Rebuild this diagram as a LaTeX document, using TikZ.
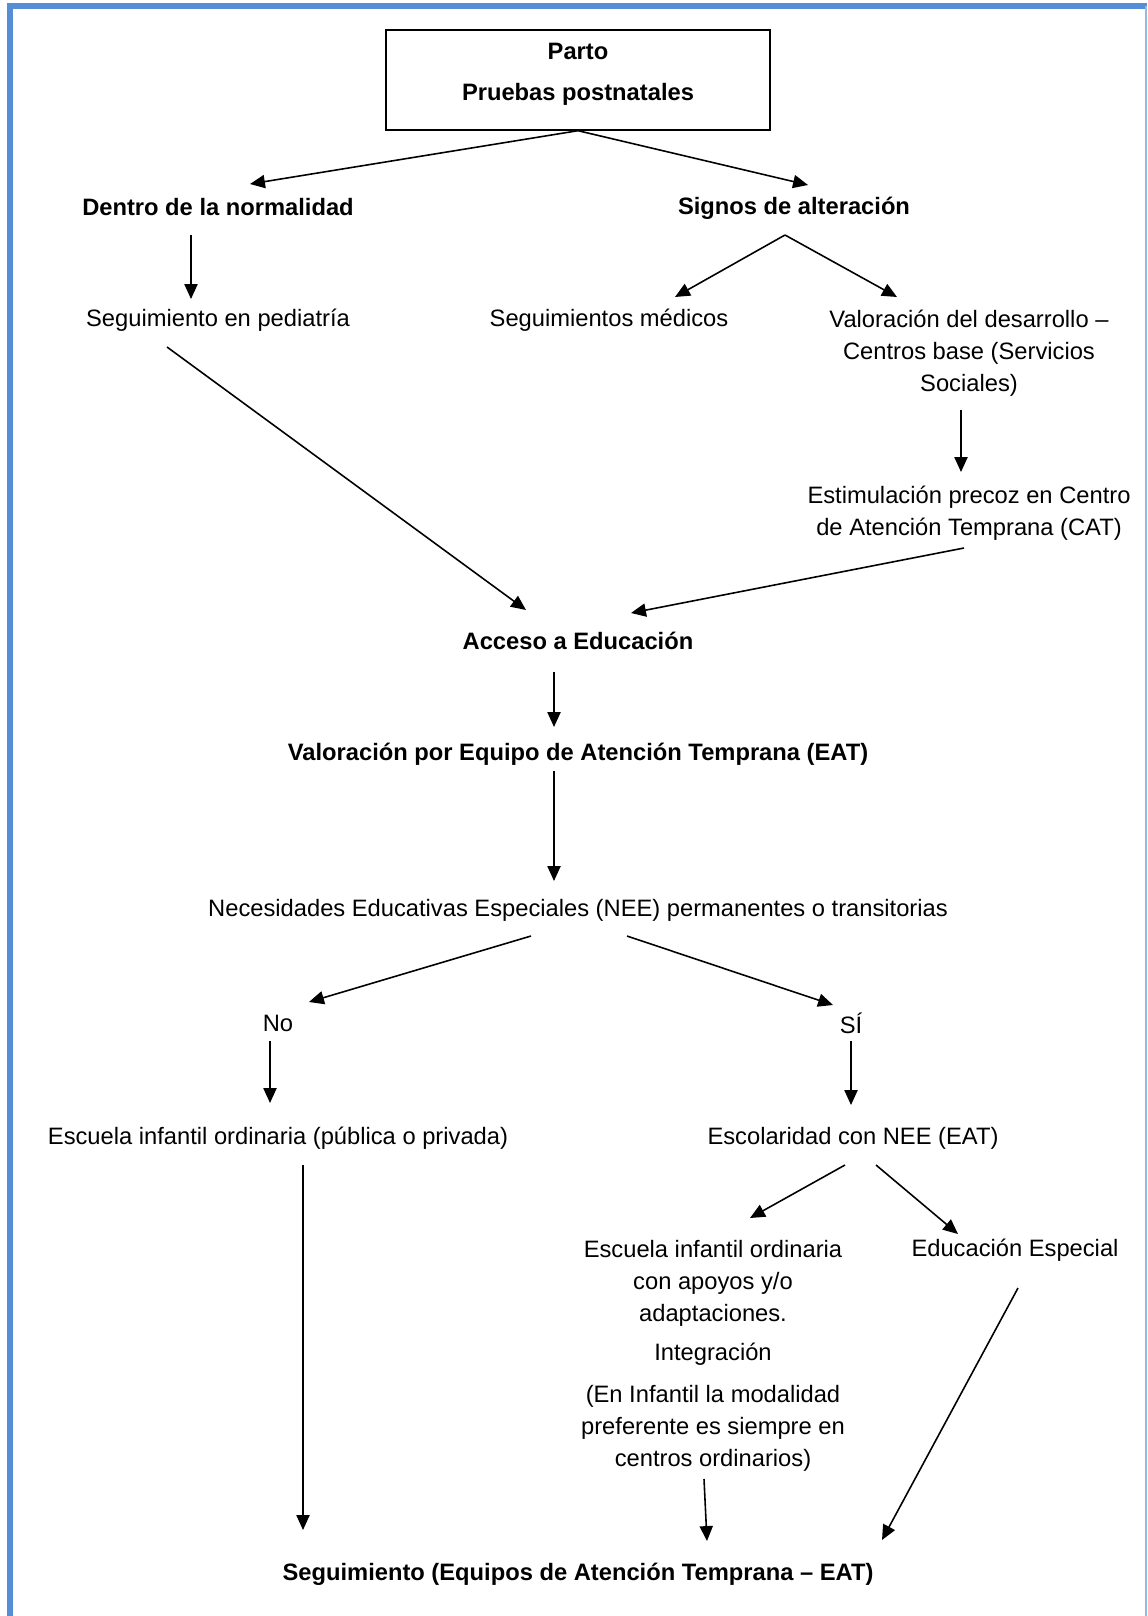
\documentclass[tikz,border=0pt]{standalone}
\usepackage{fontspec}
\setmainfont{Liberation Sans}
\usetikzlibrary{arrows.meta, calc}
\definecolor{cFrame}{RGB}{85,142,213}
\definecolor{cFrameLight}{RGB}{150,185,228}
\newcommand{\flowsize}{\fontsize{13.5pt}{18.2pt}\selectfont}
\tikzset{
	titlebox/.style={rectangle, draw=black, line width=0.8pt, minimum width=7.68cm, minimum height=2cm, align=center, text depth=9pt, font=\flowsize\bfseries},
	plain/.style={align=center, inner sep=1pt, font=\flowsize},
	heading/.style={plain, font=\flowsize\bfseries},
	linkarrow/.style={-{Triangle[length=8.5pt, width=7.5pt]}, line width=0.9pt},
}
\begin{document}
\begin{tikzpicture}[x=0.02cm, y=-0.02cm]
	\useasboundingbox (0,0) rectangle (1147,1616);
	% frame
	\draw[cFrame, line width=0.12cm] (7,6) -- (1147,6);
	\draw[cFrame, line width=0.12cm] (10,3) -- (10,1616);
	\draw[cFrameLight, line width=0.04cm] (1146,6) -- (1146,1616);
	% nodes
	\node[titlebox] (parto) at (578,80) {Parto\\[5pt]Pruebas postnatales};
	\node[heading] (dentro) at (218,207) {Dentro de la normalidad};
	\node[heading] (signos) at (794,208) {Signos de alteración};
	\node[plain] (ped) at (218,320) {Seguimiento en pediatría};
	\node[plain] (medicos) at (609,320) {Seguimientos médicos};
	\node[plain] (valdes) at (969,353) {Valoración del desarrollo –\\Centros base (Servicios\\Sociales)};
	\node[plain] (cat) at (969,513) {Estimulación precoz en Centro\\de Atención Temprana (CAT)};
	\node[heading] (acceso) at (578,641) {Acceso a Educación};
	\node[heading] (valeat) at (578,754) {Valoración por Equipo de Atención Temprana (EAT)};
	\node[plain] (nee) at (578,910) {Necesidades Educativas Especiales (NEE) permanentes o transitorias};
	\node[plain] (no) at (278,1023) {No};
	\node[plain] (si) at (851,1023) {SÍ};
	\node[plain] (escord) at (278,1138) {Escuela infantil ordinaria (pública o privada)};
	\node[plain] (escnee) at (853,1138) {Escolaridad con NEE (EAT)};
	\node[plain] (integ) at (713,1356) {Escuela infantil ordinaria\\con apoyos y/o\\adaptaciones.\\[4pt]Integración\\[5.5pt](En Infantil la modalidad\\preferente es siempre en\\centros ordinarios)};
	\node[plain] (espec) at (1015,1250) {Educación Especial};
	\node[heading] (seg) at (578,1574) {Seguimiento (Equipos de Atención Temprana – EAT)};
	% connectors
	\draw[linkarrow] (parto.south) -- ($(dentro.center)+(32,-23)$);
	\draw[linkarrow] (parto.south) -- ($(signos.center)+(14,-23)$);
	\draw[linkarrow] ($(dentro.center)+(-27,28)$) -- ($(ped.center)+(-27,-21)$);
	\draw[linkarrow] ($(signos.center)+(-9,27)$) -- ($(medicos.center)+(66,-23)$);
	\draw[linkarrow] ($(signos.center)+(-9,27)$) -- ($(valdes.center)+(-72,-56)$);
	\draw[linkarrow] ($(valdes.center)+(-8,57)$) -- ($(cat.center)+(-8,-41)$);
	\draw[linkarrow] ($(cat.center)+(-5,35)$) -- ($(acceso.center)+(53,-28)$);
	\draw[linkarrow] ($(ped.center)+(-51,27)$) -- ($(acceso.center)+(-52,-31)$);
	\draw[linkarrow] ($(acceso.center)+(-24,31)$) -- ($(valeat.center)+(-24,-27)$);
	\draw[linkarrow] ($(valeat.center)+(-24,17)$) -- ($(nee.center)+(-24,-29)$);
	\draw[linkarrow] ($(nee.center)+(-47,26)$) -- ($(no.center)+(31,-21)$);
	\draw[linkarrow] ($(nee.center)+(49,26)$) -- ($(si.center)+(-18,-18)$);
	\draw[linkarrow] ($(no.center)+(-8,18)$) -- ($(escord.center)+(-8,-35)$);
	\draw[linkarrow] ($(si.center)+(0,18)$) -- ($(escnee.center)+(-2,-33)$);
	\draw[linkarrow] ($(escnee.center)+(-8,27)$) -- ($(integ.center)+(37,-138)$);
	\draw[linkarrow] ($(escnee.center)+(23,27)$) -- ($(espec.center)+(-57,-16)$);
	\draw[linkarrow] ($(escord.center)+(25,27)$) -- ($(seg.center)+(-275,-44)$);
	\draw[linkarrow] ($(integ.center)+(-9,123)$) -- ($(seg.center)+(129,-33)$);
	\draw[linkarrow] ($(espec.center)+(3,38)$) -- ($(seg.center)+(304,-34)$);
\end{tikzpicture}
\end{document}
